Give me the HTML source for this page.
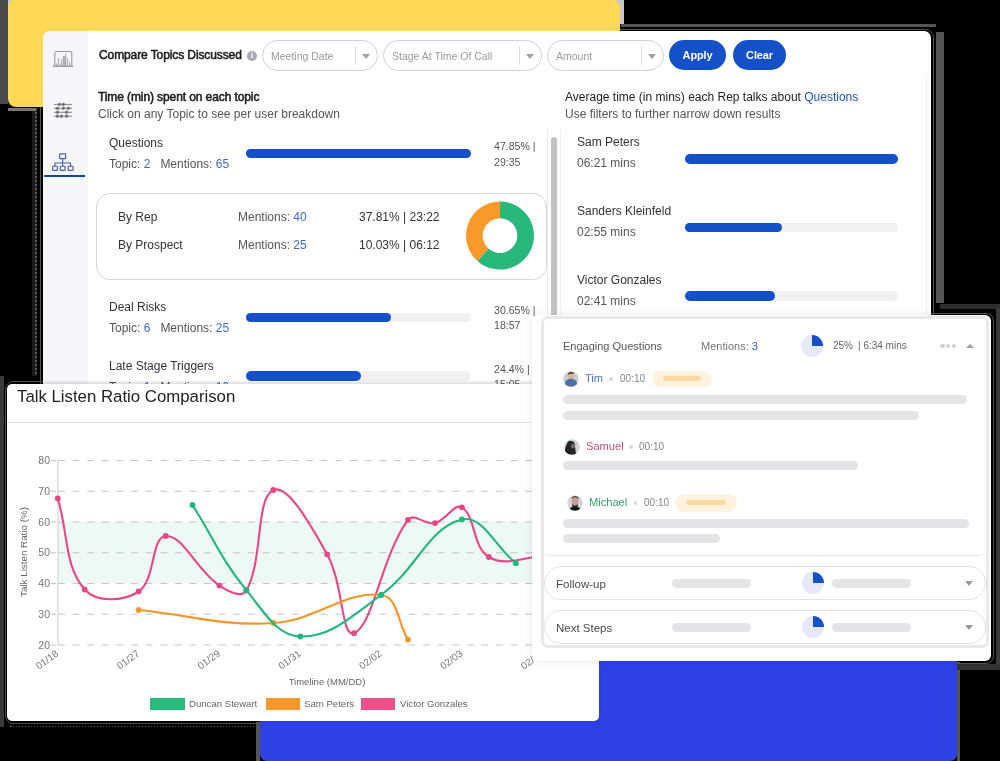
<!DOCTYPE html>
<html><head><meta charset="utf-8"><style>
html,body{margin:0;padding:0;width:1000px;height:761px;overflow:hidden;background:#000;font-family:"Liberation Sans",sans-serif}
.a{position:absolute}
.t{position:absolute;white-space:nowrap;line-height:1;will-change:transform}
svg text{font-family:"Liberation Sans",sans-serif}
</style></head><body>
<div class="a" style="left:0px;top:0px;width:8px;height:104px;background:#4b4b4b"></div>
<div class="a" style="left:0px;top:376px;width:4px;height:351px;background:#3a3a3a"></div>
<div class="a" style="left:32px;top:108px;width:3px;height:268px;background:#1c1c1c"></div>
<div class="a" style="left:35px;top:108px;width:1.5px;height:268px;background:repeating-linear-gradient(#555 0 2px,#222 2px 4px)"></div>
<div class="a" style="left:8px;top:108px;width:28px;height:3px;background:#777"></div>
<div class="a" style="left:621px;top:24px;width:315px;height:2.5px;background:#555"></div>
<div class="a" style="left:936px;top:32px;width:8px;height:271px;background:#555"></div>
<div class="a" style="left:40px;top:28.5px;width:893.5px;height:411.5px;border:1px solid #555;border-radius:9px;box-sizing:border-box"></div>
<div class="a" style="left:4.5px;top:380.5px;width:597.0px;height:343.5px;border:1px solid #505050;border-radius:8px;box-sizing:border-box"></div>
<div class="a" style="left:10px;top:726px;width:248px;height:1px;background:repeating-linear-gradient(90deg,#555 0 1.5px,transparent 1.5px 3px)"></div>
<div class="a" style="left:529px;top:313px;width:464.5px;height:350.5px;border:1px solid #555;border-radius:8px;box-sizing:border-box"></div>
<div class="a" style="left:957px;top:662px;width:3px;height:99px;background:#555"></div>
<div class="a" style="left:957px;top:664px;width:43px;height:6px;background:#333"></div>
<div class="a" style="left:940px;top:303.5px;width:60px;height:5.0px;background:#2e2e2e"></div>
<div class="a" style="left:996px;top:308px;width:4px;height:357px;background:#3a3a3a"></div>
<div class="a" style="left:256px;top:722px;width:4px;height:39px;background:#555"></div>
<div class="a" style="left:7.7px;top:0px;width:8.3px;height:8px;background:#c8cfcc"></div>
<div class="a" style="left:612px;top:0px;width:11.700000000000045px;height:10px;background:#c6c6cb"></div>
<div class="a" style="left:620px;top:0px;width:3.7000000000000455px;height:24px;background:#c6c6cb"></div>
<div class="a" style="left:7.7px;top:0px;width:612.5999999999999px;height:107px;background:#ffd855;border-radius:7px 7px 8px 8px"></div>
<div class="a" style="left:260px;top:640px;width:697px;height:121px;background:#2e41e4;border-radius:7px"></div>
<div class="a" style="left:43px;top:30.6px;width:887.7px;height:409.4px;background:#fff;border-radius:7px;overflow:hidden"></div>
<div class="a" style="left:43px;top:30.6px;width:45px;height:409.4px;background:#f4f6fa;border-top-left-radius:7px"></div>
<svg class="a" style="left:50px;top:46px" width="28" height="135" viewBox="50 46 28 135">
<g fill="none" stroke="#9c9c9c" stroke-width="1.1">
<path d="M54.8 66 V53.2 q0 -1.7 1.7 -1.7 h13.6 q1.7 0 1.7 1.7 V66"/>
<path d="M53 66.3 H73.2" stroke-width="1.4"/>
<path d="M56.6 66 v-2.7 M58.4 66 v-8 M60.6 66 v-2.5 M61.8 66 v-6.6 M63.4 66 v-10 M64.6 66 v-10 M65.7 66 v-12 M67.3 66 v-8 M69.5 66 v-4.5" stroke-width="0.9"/>
</g>
<g stroke="#7a7a7a" stroke-width="0.95" fill="#6a6a6a">
<path d="M54 104.4 H72 M54 108.3 H72 M54 112.25 H72 M54 116.2 H72"/>
<circle cx="59.5" cy="104.4" r="1.25"/><circle cx="63.4" cy="104.4" r="1.25"/>
<circle cx="57.5" cy="108.3" r="1.25"/><circle cx="63.4" cy="108.3" r="1.25"/><circle cx="68.4" cy="108.3" r="1.25"/>
<circle cx="57.5" cy="112.25" r="1.25"/><circle cx="66.6" cy="112.25" r="1.25"/>
<circle cx="57.5" cy="116.2" r="1.25"/><circle cx="61.4" cy="116.2" r="1.25"/><circle cx="66.6" cy="116.2" r="1.25"/>
</g>
<g fill="none" stroke="#4b5ca8" stroke-width="1.15">
<rect x="59.6" y="153.8" width="6" height="4.8" rx="0.6"/>
<path d="M62.6 158.6 V163 M54.9 166.2 V163 H70.5 V166.2 M62.6 163 V166.2"/>
<rect x="52.6" y="166.2" width="4.8" height="4.2" rx="0.6"/><rect x="60.2" y="166.2" width="4.8" height="4.2" rx="0.6"/><rect x="68.2" y="166.2" width="4.8" height="4.2" rx="0.6"/>
</g>
</svg>
<div class="a" style="left:44px;top:175px;width:41px;height:2px;background:#0f43a8"></div>
<div class="t" style="left:98.5px;top:48.8px;font-size:12px;color:#1e1e1e;font-weight:normal;letter-spacing:-0.1px;-webkit-text-stroke:0.55px #1e1e1e">Compare Topics Discussed</div>
<div class="a" style="left:247px;top:50.5px;width:10px;height:10px;border-radius:50%;background:#a7a9b0;color:#fff;font-size:8px;font-weight:bold;text-align:center;line-height:10.5px;font-family:Liberation Serif">i</div>
<div class="a" style="left:262px;top:40px;width:116px;height:31px;border:1px solid #d2d2d2;border-radius:16px;box-sizing:border-box;background:#fff"></div><div class="t" style="left:270.5px;top:50.6px;font-size:10.5px;color:#9a9a9a;font-weight:normal;letter-spacing:0px;">Meeting Date</div><div class="a" style="left:355px;top:46px;width:1px;height:19px;background:#dcdcdc"></div><div class="a" style="left:361.5px;top:54px;width:0;height:0;border-left:4.5px solid transparent;border-right:4.5px solid transparent;border-top:5px solid #a2a2a2"></div>
<div class="a" style="left:383px;top:40px;width:159px;height:31px;border:1px solid #d2d2d2;border-radius:16px;box-sizing:border-box;background:#fff"></div><div class="t" style="left:391.5px;top:50.6px;font-size:10.5px;color:#9a9a9a;font-weight:normal;letter-spacing:0px;">Stage At Time Of Call</div><div class="a" style="left:519px;top:46px;width:1px;height:19px;background:#dcdcdc"></div><div class="a" style="left:525.5px;top:54px;width:0;height:0;border-left:4.5px solid transparent;border-right:4.5px solid transparent;border-top:5px solid #a2a2a2"></div>
<div class="a" style="left:547px;top:40px;width:117px;height:31px;border:1px solid #d2d2d2;border-radius:16px;box-sizing:border-box;background:#fff"></div><div class="t" style="left:555.5px;top:50.6px;font-size:10.5px;color:#9a9a9a;font-weight:normal;letter-spacing:0px;">Amount</div><div class="a" style="left:641px;top:46px;width:1px;height:19px;background:#dcdcdc"></div><div class="a" style="left:647.5px;top:54px;width:0;height:0;border-left:4.5px solid transparent;border-right:4.5px solid transparent;border-top:5px solid #a2a2a2"></div>
<div class="a" style="left:669px;top:40px;width:57px;height:30px;background:#1450c8;border-radius:15px"></div>
<div class="a" style="left:733px;top:40px;width:53px;height:30px;background:#1450c8;border-radius:15px"></div>
<div class="t" style="left:669px;top:49.7px;font-size:11px;color:#fff;font-weight:bold;letter-spacing:-0.15px;width:57px;text-align:center">Apply</div>
<div class="t" style="left:733px;top:49.7px;font-size:11px;color:#fff;font-weight:bold;letter-spacing:-0.15px;width:53px;text-align:center">Clear</div>
<div class="t" style="left:98px;top:90.8px;font-size:12px;color:#1e1e1e;font-weight:normal;letter-spacing:-0.1px;-webkit-text-stroke:0.55px #1e1e1e">Time (min) spent on each topic</div>
<div class="t" style="left:98px;top:108.1px;font-size:12px;color:#555;font-weight:normal;letter-spacing:0px;">Click on any Topic to see per user breakdown</div>
<div class="t" style="left:564.5px;top:90.8px;font-size:12px;color:#1e1e1e;font-weight:normal;letter-spacing:0px;">Average time (in mins) each Rep talks about <span style="color:#1f55c0">Questions</span></div>
<div class="t" style="left:564.5px;top:108.1px;font-size:12px;color:#555;font-weight:normal;letter-spacing:0px;">Use filters to further narrow down results</div>
<div class="t" style="left:108.7px;top:137.1px;font-size:12px;color:#333;font-weight:normal;letter-spacing:0px;">Questions</div><div class="t" style="left:108.7px;top:158.4px;font-size:12px;color:#555;font-weight:normal;letter-spacing:0px;">Topic: <span style="color:#3d6cc0">2</span>&nbsp;&nbsp; Mentions: <span style="color:#3d6cc0">65</span></div><div class="a" style="left:246px;top:148.8px;width:225px;height:9.5px;background:#f1f1f3;border-radius:5px"></div><div class="a" style="left:246px;top:148.8px;width:225px;height:9.5px;background:#1450c8;border-radius:5px"></div><div class="t" style="left:494px;top:141.1px;font-size:10.6px;color:#555;font-weight:normal;letter-spacing:0px;">47.85% |</div><div class="t" style="left:494px;top:156.6px;font-size:10.6px;color:#555;font-weight:normal;letter-spacing:0px;">29:35</div>
<div class="t" style="left:108.7px;top:300.8px;font-size:12px;color:#333;font-weight:normal;letter-spacing:0px;">Deal Risks</div><div class="t" style="left:108.7px;top:322.1px;font-size:12px;color:#555;font-weight:normal;letter-spacing:0px;">Topic: <span style="color:#3d6cc0">6</span>&nbsp;&nbsp; Mentions: <span style="color:#3d6cc0">25</span></div><div class="a" style="left:246px;top:312.5px;width:225px;height:9.5px;background:#f1f1f3;border-radius:5px"></div><div class="a" style="left:246px;top:312.5px;width:144.5px;height:9.5px;background:#1450c8;border-radius:5px"></div><div class="t" style="left:494px;top:304.8px;font-size:10.6px;color:#555;font-weight:normal;letter-spacing:0px;">30.65% |</div><div class="t" style="left:494px;top:320.3px;font-size:10.6px;color:#555;font-weight:normal;letter-spacing:0px;">18:57</div>
<div class="t" style="left:108.7px;top:359.5px;font-size:12px;color:#333;font-weight:normal;letter-spacing:0px;">Late Stage Triggers</div><div class="t" style="left:108.7px;top:380.8px;font-size:12px;color:#555;font-weight:normal;letter-spacing:0px;">Topic: <span style="color:#3d6cc0">1</span>&nbsp;&nbsp; Mentions: <span style="color:#3d6cc0">10</span></div><div class="a" style="left:246px;top:371.2px;width:225px;height:9.5px;background:#f1f1f3;border-radius:5px"></div><div class="a" style="left:246px;top:371.2px;width:115px;height:9.5px;background:#1450c8;border-radius:5px"></div><div class="t" style="left:494px;top:363.5px;font-size:10.6px;color:#555;font-weight:normal;letter-spacing:0px;">24.4% |</div><div class="t" style="left:494px;top:379.0px;font-size:10.6px;color:#555;font-weight:normal;letter-spacing:0px;">15:05</div>
<div class="a" style="left:96px;top:192.5px;width:450.5px;height:87.0px;border:1px solid #d6d6d6;border-radius:14px;box-sizing:border-box;background:#fff"></div>
<div class="t" style="left:118.3px;top:210.5px;font-size:12px;color:#333;font-weight:normal;letter-spacing:0px;">By Rep</div>
<div class="t" style="left:118.3px;top:238.6px;font-size:12px;color:#333;font-weight:normal;letter-spacing:0px;">By Prospect</div>
<div class="t" style="left:238.3px;top:210.5px;font-size:12px;color:#555;font-weight:normal;letter-spacing:0px;">Mentions: <span style="color:#3d6cc0">40</span></div>
<div class="t" style="left:238.3px;top:238.6px;font-size:12px;color:#555;font-weight:normal;letter-spacing:0px;">Mentions: <span style="color:#3d6cc0">25</span></div>
<div class="t" style="left:358.8px;top:210.5px;font-size:12px;color:#333;font-weight:normal;letter-spacing:0px;">37.81% | 23:22</div>
<div class="t" style="left:358.8px;top:238.6px;font-size:12px;color:#333;font-weight:normal;letter-spacing:0px;">10.03% | 06:12</div>
<svg class="a" style="left:0;top:0" width="1000" height="761"><path d="M500.00 201.60 A34 34 0 1 1 477.38 260.99 L488.49 248.52 A17.3 17.3 0 1 0 500.00 218.30 Z" fill="#28b87c"/><path d="M477.38 260.99 A34 34 0 0 1 500.00 201.60 L500.00 218.30 A17.3 17.3 0 0 0 488.49 248.52 Z" fill="#f8992a"/></svg>
<div class="a" style="left:547px;top:130px;width:1px;height:310px;background:#ececec"></div>
<div class="a" style="left:925.5px;top:75px;width:1.0px;height:240px;background:#efefef"></div>
<div class="a" style="left:559.5px;top:130px;width:1.0px;height:310px;background:#efefef"></div>
<div class="a" style="left:551px;top:137px;width:6px;height:303px;background:#c3c3c3;border-radius:3px"></div>
<div class="t" style="left:577px;top:136.3px;font-size:12px;color:#333;font-weight:normal;letter-spacing:0px;">Sam Peters</div><div class="t" style="left:577px;top:157.3px;font-size:12px;color:#555;font-weight:normal;letter-spacing:0px;">06:21 mins</div><div class="a" style="left:685px;top:154.0px;width:213px;height:9.5px;background:#f1f1f3;border-radius:5px"></div><div class="a" style="left:685px;top:154.0px;width:213px;height:9.5px;background:#1450c8;border-radius:5px"></div>
<div class="t" style="left:577px;top:205.2px;font-size:12px;color:#333;font-weight:normal;letter-spacing:0px;">Sanders Kleinfeld</div><div class="t" style="left:577px;top:226.2px;font-size:12px;color:#555;font-weight:normal;letter-spacing:0px;">02:55 mins</div><div class="a" style="left:685px;top:222.9px;width:213px;height:9.5px;background:#f1f1f3;border-radius:5px"></div><div class="a" style="left:685px;top:222.9px;width:97.39999999999998px;height:9.5px;background:#1450c8;border-radius:5px"></div>
<div class="t" style="left:577px;top:273.6px;font-size:12px;color:#333;font-weight:normal;letter-spacing:0px;">Victor Gonzales</div><div class="t" style="left:577px;top:294.6px;font-size:12px;color:#555;font-weight:normal;letter-spacing:0px;">02:41 mins</div><div class="a" style="left:685px;top:291.3px;width:213px;height:9.5px;background:#f1f1f3;border-radius:5px"></div><div class="a" style="left:685px;top:291.3px;width:90px;height:9.5px;background:#1450c8;border-radius:5px"></div>
<div class="a" style="left:7px;top:384px;width:592px;height:337px;background:#fff;border-radius:5px;box-shadow:0 0 6px rgba(0,0,0,0.08)"></div>
<div class="t" style="left:17.2px;top:388.8px;font-size:16.8px;color:#222;font-weight:normal;letter-spacing:0px;">Talk Listen Ratio Comparison</div>
<div class="a" style="left:7px;top:421.5px;width:592px;height:1.5px;background:#e2e2e2"></div>
<div class="a" style="left:40px;top:380px;width:558px;height:4px;background:linear-gradient(rgba(0,0,0,0),rgba(0,0,0,0.1))"></div>
<svg class="a" style="left:0;top:0" width="1000" height="761"><rect x="58" y="521.5" width="474" height="61.8" fill="#edf9f4"/><line x1="58" y1="460.5" x2="532" y2="460.5" stroke="#c6c6c6" stroke-width="1.1" stroke-dasharray="7 7.6"/><line x1="51" y1="460.5" x2="56" y2="460.5" stroke="#c6c6c6" stroke-width="1.1"/><text x="50" y="464.0" text-anchor="end" font-size="10.5" fill="#777">80</text><line x1="58" y1="491.25" x2="532" y2="491.25" stroke="#c6c6c6" stroke-width="1.1" stroke-dasharray="7 7.6"/><line x1="51" y1="491.25" x2="56" y2="491.25" stroke="#c6c6c6" stroke-width="1.1"/><text x="50" y="494.75" text-anchor="end" font-size="10.5" fill="#777">70</text><line x1="58" y1="522.0" x2="532" y2="522.0" stroke="#c6c6c6" stroke-width="1.1" stroke-dasharray="7 7.6"/><line x1="51" y1="522.0" x2="56" y2="522.0" stroke="#c6c6c6" stroke-width="1.1"/><text x="50" y="525.5" text-anchor="end" font-size="10.5" fill="#777">60</text><line x1="58" y1="552.75" x2="532" y2="552.75" stroke="#c6c6c6" stroke-width="1.1" stroke-dasharray="7 7.6"/><line x1="51" y1="552.75" x2="56" y2="552.75" stroke="#c6c6c6" stroke-width="1.1"/><text x="50" y="556.25" text-anchor="end" font-size="10.5" fill="#777">50</text><line x1="58" y1="583.5" x2="532" y2="583.5" stroke="#c6c6c6" stroke-width="1.1" stroke-dasharray="7 7.6"/><line x1="51" y1="583.5" x2="56" y2="583.5" stroke="#c6c6c6" stroke-width="1.1"/><text x="50" y="587.0" text-anchor="end" font-size="10.5" fill="#777">40</text><line x1="58" y1="614.25" x2="532" y2="614.25" stroke="#c6c6c6" stroke-width="1.1" stroke-dasharray="7 7.6"/><line x1="51" y1="614.25" x2="56" y2="614.25" stroke="#c6c6c6" stroke-width="1.1"/><text x="50" y="617.75" text-anchor="end" font-size="10.5" fill="#777">30</text><line x1="58" y1="645.0" x2="532" y2="645.0" stroke="#c6c6c6" stroke-width="1.1" stroke-dasharray="7 7.6"/><line x1="51" y1="645.0" x2="56" y2="645.0" stroke="#c6c6c6" stroke-width="1.1"/><text x="50" y="648.5" text-anchor="end" font-size="10.5" fill="#777">20</text><line x1="58" y1="460" x2="58" y2="645.5" stroke="#d6d6d6" stroke-width="1.2"/><text transform="translate(27 552) rotate(-90)" text-anchor="middle" font-size="9.8" fill="#666">Talk Listen Ratio (%)</text><text transform="translate(59.3 655) rotate(-36)" text-anchor="end" font-size="10" fill="#777">01/18</text><text transform="translate(140.13 655) rotate(-36)" text-anchor="end" font-size="10" fill="#777">01/27</text><text transform="translate(220.95999999999998 655) rotate(-36)" text-anchor="end" font-size="10" fill="#777">01/29</text><text transform="translate(301.79 655) rotate(-36)" text-anchor="end" font-size="10" fill="#777">01/31</text><text transform="translate(382.62 655) rotate(-36)" text-anchor="end" font-size="10" fill="#777">02/02</text><text transform="translate(463.45 655) rotate(-36)" text-anchor="end" font-size="10" fill="#777">02/03</text><text transform="translate(544.28 655) rotate(-36)" text-anchor="end" font-size="10" fill="#777">02/04</text><text x="327" y="684.8" text-anchor="middle" font-size="9.5" fill="#666">Timeline (MM/DD)</text><path d="M57.8 498.5 C68.6 534.9 64.1 565.8 84.7 589.5 C96.5 603.0 123.5 601.5 138.6 591.5 C155.9 580.1 150.8 537.1 165.6 536.0 C183.1 534.7 195.9 569.7 219.4 585.6 C228.2 591.5 241.9 598.5 246.4 590.5 C263.4 560.2 255.4 498.0 273.3 490.0 C287.8 483.6 311.0 525.6 327.2 554.4 C343.3 582.9 341.2 638.7 354.1 633.2 C373.6 624.9 381.4 556.1 408.0 519.9 C413.8 512.1 424.9 525.4 435.0 523.1 C446.5 520.4 454.2 502.6 461.9 507.4 C475.8 516.1 472.3 547.1 488.8 557.0 C504.6 566.5 521.3 557.9 542.7 556.0 C553.7 555.1 558.9 552.4 569.7 550.0" fill="none" stroke="#e9468a" stroke-width="2.1"/><circle cx="57.8" cy="498.5" r="2.9" fill="#e9468a"/><circle cx="84.7" cy="589.5" r="2.9" fill="#e9468a"/><circle cx="138.6" cy="591.5" r="2.9" fill="#e9468a"/><circle cx="165.6" cy="536.0" r="2.9" fill="#e9468a"/><circle cx="219.4" cy="585.6" r="2.9" fill="#e9468a"/><circle cx="246.4" cy="590.5" r="2.9" fill="#e9468a"/><circle cx="273.3" cy="490.0" r="2.9" fill="#e9468a"/><circle cx="327.2" cy="554.4" r="2.9" fill="#e9468a"/><circle cx="354.1" cy="633.2" r="2.9" fill="#e9468a"/><circle cx="408.0" cy="519.9" r="2.9" fill="#e9468a"/><circle cx="435.0" cy="523.1" r="2.9" fill="#e9468a"/><circle cx="461.9" cy="507.4" r="2.9" fill="#e9468a"/><circle cx="488.8" cy="557.0" r="2.9" fill="#e9468a"/><circle cx="542.7" cy="556.0" r="2.9" fill="#e9468a"/><circle cx="569.7" cy="550.0" r="2.9" fill="#e9468a"/><path d="M138.6 610.0 C192.5 615.2 220.1 626.3 273.3 623.0 C317.1 620.3 344.4 590.5 381.1 595.0 C398.3 597.1 397.2 621.8 408.0 639.6" fill="none" stroke="#f7952a" stroke-width="2.1"/><circle cx="138.6" cy="610.0" r="2.9" fill="#f7952a"/><circle cx="273.3" cy="623.0" r="2.9" fill="#f7952a"/><circle cx="381.1" cy="595.0" r="2.9" fill="#f7952a"/><circle cx="408.0" cy="639.6" r="2.9" fill="#f7952a"/><path d="M192.5 505.0 C214.1 539.1 221.1 559.3 246.4 590.2 C264.2 611.9 276.6 635.7 300.3 636.5 C330.5 637.6 351.9 616.1 381.1 595.0 C416.6 569.3 428.8 527.3 461.9 519.5 C482.7 514.6 494.2 545.7 515.8 563.2" fill="none" stroke="#22b77c" stroke-width="2.1"/><circle cx="192.5" cy="505.0" r="2.9" fill="#22b77c"/><circle cx="246.4" cy="590.2" r="2.9" fill="#22b77c"/><circle cx="300.3" cy="636.5" r="2.9" fill="#22b77c"/><circle cx="381.1" cy="595.0" r="2.9" fill="#22b77c"/><circle cx="461.9" cy="519.5" r="2.9" fill="#22b77c"/><circle cx="515.8" cy="563.2" r="2.9" fill="#22b77c"/></svg>
<div class="a" style="left:150px;top:698px;width:34.599999999999994px;height:12px;background:#2bb97f"></div>
<div class="a" style="left:265.5px;top:698px;width:34.0px;height:12px;background:#f7972b"></div>
<div class="a" style="left:361px;top:698px;width:34px;height:12px;background:#f0508e"></div>
<div class="t" style="left:188.6px;top:699.2px;font-size:9.6px;color:#666;font-weight:normal;letter-spacing:0px;">Duncan Stewart</div>
<div class="t" style="left:303.6px;top:699.2px;font-size:9.6px;color:#666;font-weight:normal;letter-spacing:0px;">Sam Peters</div>
<div class="t" style="left:399.5px;top:699.2px;font-size:9.6px;color:#666;font-weight:normal;letter-spacing:0px;">Victor Gonzales</div>
<div class="a" style="left:532px;top:314.5px;width:459px;height:346.5px;background:#fff;border-radius:6px;box-shadow:0 0 8px rgba(0,0,0,0.09)"></div>
<div class="a" style="left:540.5px;top:315.5px;width:448.0px;height:332.0px;border:3px solid #e7e9ef;border-radius:7px;box-sizing:border-box"></div>
<div class="a" style="left:542px;top:318px;width:444.5px;height:237.5px;border-bottom:1px solid #e2e2e2;border-radius:0 0 9px 9px;box-sizing:border-box"></div>
<div class="t" style="left:563px;top:340.5px;font-size:11px;color:#555;font-weight:normal;letter-spacing:0px;">Engaging Questions</div>
<div class="t" style="left:701.3px;top:340.5px;font-size:11px;color:#777;font-weight:normal;letter-spacing:0px;">Mentions: <span style="color:#2f62b8">3</span></div>
<svg class="a" style="left:799.6px;top:334px" width="24" height="24" viewBox="-12 -12 24 24"><circle r="11" fill="#e4e8f8"/><path d="M0 0 V-11 A11 11 0 0 1 11 0 Z" fill="#1450c8"/></svg>
<div class="t" style="left:832.5px;top:340.8px;font-size:10px;color:#666;font-weight:normal;letter-spacing:0px;">25%</div>
<div class="t" style="left:858.4px;top:340.8px;font-size:10px;color:#666;font-weight:normal;letter-spacing:0px;">| 6:34 mins</div>
<div class="a" style="left:940.4px;top:344.2px;width:4.2px;height:4.2px;border-radius:50%;background:#d2d2d2"></div>
<div class="a" style="left:946.2px;top:344.2px;width:4.2px;height:4.2px;border-radius:50%;background:#d2d2d2"></div>
<div class="a" style="left:952.0px;top:344.2px;width:4.2px;height:4.2px;border-radius:50%;background:#d2d2d2"></div>
<div class="a" style="left:965.6px;top:344px;width:0;height:0;border-left:4px solid transparent;border-right:4px solid transparent;border-bottom:4.5px solid #a0a0a0"></div>
<svg class="a" style="left:562.7px;top:370.7px" width="16" height="16" viewBox="-8 -8 16 16"><defs><clipPath id="ctim"><circle r="7.8"/></clipPath></defs><g clip-path="url(#ctim)"><circle r="8" fill="#c9cdd1"/><ellipse cx="0" cy="-2.5" rx="2.8" ry="3.4" fill="#d8b29a"/><path d="M-3.2 -3.5 q0.5 -3.5 3.5 -3.4 q2.5 0 2.6 2.2 l-1 -0.6 q-2 -0.6 -3.8 0.3 z" fill="#3b2a22"/><path d="M-6 5 q0 -5 6 -5.3 q6 0.3 6 5.3 l0 4 h-12 z" fill="#4c6fa8"/></g></svg>
<div class="t" style="left:585.2px;top:373.3px;font-size:11.1px;color:#4874bd;font-weight:normal;letter-spacing:0px;">Tim</div>
<div class="a" style="left:609.3px;top:377.3px;width:3.4px;height:3.4px;border-radius:50%;background:#d8d8d8"></div>
<div class="t" style="left:619.7px;top:374.0px;font-size:10px;color:#888;font-weight:normal;letter-spacing:0px;">00:10</div>
<div class="a" style="left:652px;top:370.5px;width:60px;height:16.80000000000001px;background:#fff2df;border-radius:8.400000000000006px"></div><div class="a" style="left:663px;top:376.4px;width:38px;height:5.0px;background:#fcd8a2;border-radius:3px"></div>
<div class="a" style="left:563px;top:394.5px;width:404px;height:9.100000000000023px;background:#e3e4e7;border-radius:4.550000000000011px"></div>
<div class="a" style="left:563px;top:410.8px;width:356px;height:9.199999999999989px;background:#e3e4e7;border-radius:4.599999999999994px"></div>
<svg class="a" style="left:563.6px;top:438.7px" width="16" height="16" viewBox="-8 -8 16 16"><defs><clipPath id="csam"><circle r="7.8"/></clipPath></defs><g clip-path="url(#csam)"><circle r="8" fill="#cfd3d6"/><path d="M-6 8 q-2 -5 0 -9 q2 -6 5 -5 q4 0 4 5 l1 9 z" fill="#1f2823"/><ellipse cx="1" cy="-1" rx="2" ry="2.6" fill="#7a6a66"/><path d="M-7 3 q2 -1 4 3 l-1 3 h-4 z" fill="#111"/></g></svg>
<div class="t" style="left:585.5px;top:441.1px;font-size:11.1px;color:#c25472;font-weight:normal;letter-spacing:0px;">Samuel</div>
<div class="a" style="left:629.3px;top:445.3px;width:3.4px;height:3.4px;border-radius:50%;background:#d8d8d8"></div>
<div class="t" style="left:639px;top:441.8px;font-size:10px;color:#888;font-weight:normal;letter-spacing:0px;">00:10</div>
<div class="a" style="left:563px;top:461.4px;width:294.5px;height:8.400000000000034px;background:#e3e4e7;border-radius:4.200000000000017px"></div>
<svg class="a" style="left:566.8px;top:494.7px" width="16" height="16" viewBox="-8 -8 16 16"><defs><clipPath id="cmic"><circle r="7.8"/></clipPath></defs><g clip-path="url(#cmic)"><circle r="8" fill="#d3d6d8"/><ellipse cx="0" cy="-1.2" rx="3.4" ry="4.2" fill="#c99c9a"/><path d="M-3.4 -4 q3.4 -3.5 6.8 0 l0 -1.5 q-3.4 -3 -6.8 0 z" fill="#4a3530"/><path d="M-2.8 1 q2.8 3 5.6 0 l0 3 q-2.8 2 -5.6 0 z" fill="#2c2c2c"/><path d="M-6 8 q0 -4 6 -4.5 q6 0.5 6 4.5 z" fill="#151515"/></g></svg>
<div class="t" style="left:589.2px;top:497.1px;font-size:11.1px;color:#3a9a6b;font-weight:normal;letter-spacing:0px;">Michael</div>
<div class="a" style="left:634.0px;top:501.3px;width:3.4px;height:3.4px;border-radius:50%;background:#d8d8d8"></div>
<div class="t" style="left:643.7px;top:497.8px;font-size:10px;color:#888;font-weight:normal;letter-spacing:0px;">00:10</div>
<div class="a" style="left:674.7px;top:493.8px;width:62.09999999999991px;height:17.80000000000001px;background:#fff2df;border-radius:8.900000000000006px"></div><div class="a" style="left:685.7px;top:500.20000000000005px;width:40.09999999999991px;height:5.0px;background:#fcd8a2;border-radius:3px"></div>
<div class="a" style="left:563px;top:518.7px;width:406px;height:8.899999999999977px;background:#e3e4e7;border-radius:4.449999999999989px"></div>
<div class="a" style="left:563px;top:534.2px;width:157.29999999999995px;height:8.799999999999955px;background:#e3e4e7;border-radius:4.399999999999977px"></div>
<div class="a" style="left:544px;top:566px;width:442px;height:34px;border:1px solid #e3e3e3;border-radius:17.0px;box-sizing:border-box"></div><div class="t" style="left:556.3px;top:578.8px;font-size:11.5px;color:#4a4a4a;font-weight:normal;letter-spacing:0px;">Follow-up</div><div class="a" style="left:672.4px;top:578.5px;width:78.60000000000002px;height:9.0px;background:#e3e4e7;border-radius:4.5px"></div><svg class="a" style="left:801.4px;top:571.0px" width="24" height="24" viewBox="-12 -12 24 24"><circle r="11" fill="#e4e8f8"/><path d="M0 0 V-11 A11 11 0 0 1 11 0 Z" fill="#1450c8"/></svg><div class="a" style="left:831.7px;top:578.5px;width:78.89999999999998px;height:9.0px;background:#e3e4e7;border-radius:4.5px"></div><div class="a" style="left:965px;top:581.0px;width:0;height:0;border-left:4.5px solid transparent;border-right:4.5px solid transparent;border-top:5px solid #9a9a9a"></div>
<div class="a" style="left:544px;top:610px;width:442px;height:34px;border:1px solid #e3e3e3;border-radius:17.0px;box-sizing:border-box"></div><div class="t" style="left:556.3px;top:622.8px;font-size:11.5px;color:#4a4a4a;font-weight:normal;letter-spacing:0px;">Next Steps</div><div class="a" style="left:672.4px;top:622.5px;width:78.60000000000002px;height:9.0px;background:#e3e4e7;border-radius:4.5px"></div><svg class="a" style="left:801.4px;top:615.0px" width="24" height="24" viewBox="-12 -12 24 24"><circle r="11" fill="#e4e8f8"/><path d="M0 0 V-11 A11 11 0 0 1 11 0 Z" fill="#1450c8"/></svg><div class="a" style="left:831.7px;top:622.5px;width:78.89999999999998px;height:9.0px;background:#e3e4e7;border-radius:4.5px"></div><div class="a" style="left:965px;top:625.0px;width:0;height:0;border-left:4.5px solid transparent;border-right:4.5px solid transparent;border-top:5px solid #9a9a9a"></div>
</body></html>
